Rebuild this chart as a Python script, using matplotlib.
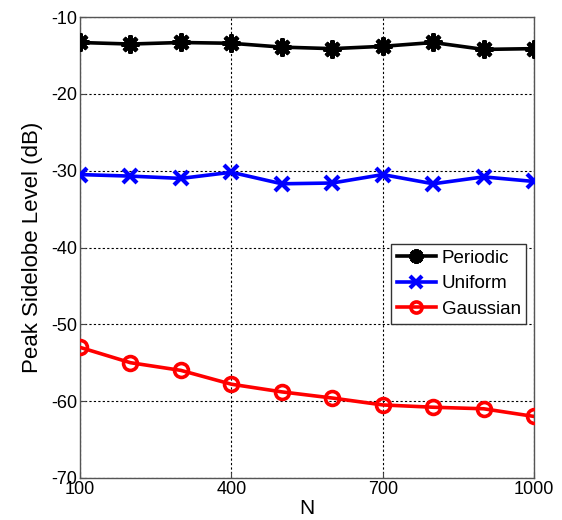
import numpy as np
import matplotlib.pyplot as plt

plt.rcParams['font.family'] = ['Liberation Sans', 'DejaVu Sans']
plt.rcParams['axes.unicode_minus'] = False

N = [100, 200, 300, 400, 500, 600, 700, 800, 900, 1000]
periodic = [-13.3, -13.5, -13.3, -13.4, -13.9, -14.1, -13.8, -13.3, -14.2, -14.1]
uniform = [-30.5, -30.7, -31.0, -30.2, -31.7, -31.6, -30.5, -31.7, -30.8, -31.4]
gaussian = [-53.0, -55.0, -56.0, -57.8, -58.8, -59.6, -60.5, -60.8, -61.0, -62.0]

x_ticks = [100, 400, 700, 1000]
y_ticks = [-70, -60, -50, -40, -30, -20, -10]

fig = plt.figure(figsize=(5.62, 5.2), dpi=100)
ax = fig.add_axes([0.1423, 0.081, 0.808, 0.886])

ax.plot(N, periodic, color='black', linewidth=2.6, marker=(8, 2, 0),
        markersize=13, markeredgewidth=3, label='Periodic', zorder=5)
ax.plot(N, uniform, color='#0000ff', linewidth=2.6, marker='x',
        markersize=10, markeredgewidth=3, label='Uniform', zorder=5)
ax.plot(N, gaussian, color='#ff0000', linewidth=2.6, marker='o',
        markersize=10, markeredgewidth=2.6, markerfacecolor='none',
        label='Gaussian', zorder=5)

ax.set_xlim(100, 1000)
ax.set_ylim(-70, -10)
ax.set_xticks(x_ticks)
ax.set_yticks(y_ticks)
ax.grid(True, color='black', linestyle=(0, (2, 2)), linewidth=0.8)
ax.set_axisbelow(True)
ax.tick_params(direction='in', length=4, labelsize=13, pad=2, color='#444444')
for s in ax.spines.values():
    s.set_color('#555555')
    s.set_linewidth(1.0)

ax.set_xlabel('N', fontsize=15, labelpad=1)
ax.set_ylabel('Peak Sidelobe Level (dB)', fontsize=16, labelpad=6)

leg = ax.legend(loc='upper left', bbox_to_anchor=(391 / 562, 1 - 244 / 520),
                bbox_transform=fig.transFigure, fontsize=13.5,
                fancybox=False, framealpha=1, edgecolor='#333333',
                handlelength=2.1, borderpad=0.3, labelspacing=0.45,
                handletextpad=0.3, borderaxespad=0, markerscale=0.8)
leg.get_frame().set_linewidth(1.0)

fig.savefig('out.png', dpi=100, facecolor='white')
